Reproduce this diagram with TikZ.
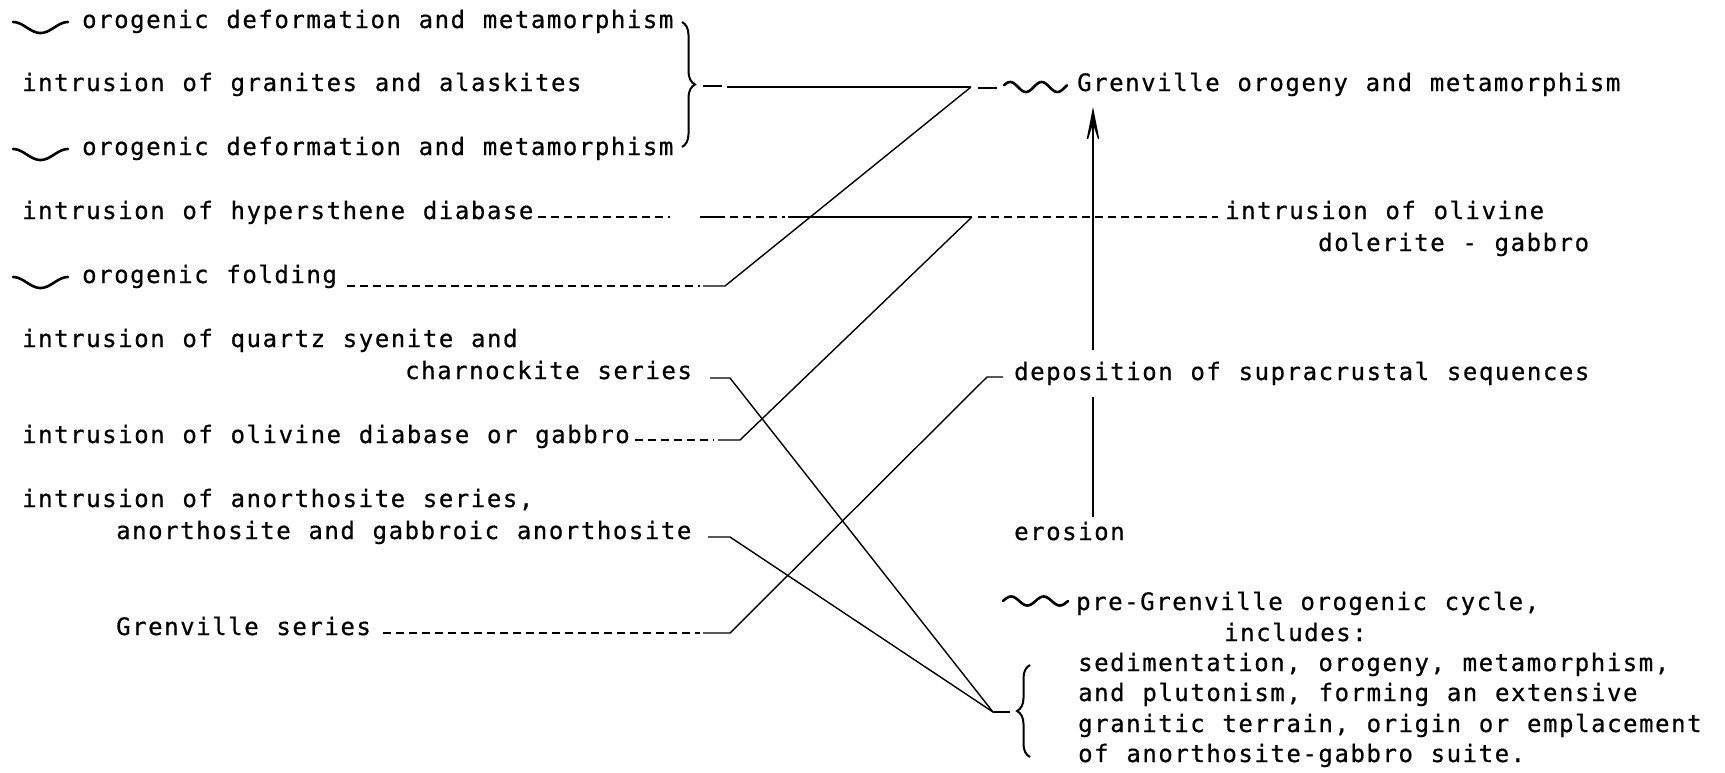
\documentclass[tikz,border=0pt]{standalone}
\usepackage{fontspec}
\newfontfamily\tw[LetterSpace=6.5,WordSpace=1.107,FakeBold=0.6]{DejaVu Sans Mono}
\usetikzlibrary{decorations.pathreplacing,arrows.meta}
\begin{document}
\begin{tikzpicture}[x=1pt,y=-1pt,
  txt/.style={anchor=base west,inner sep=0pt,font=\tw\fontsize{24pt}{28pt}\selectfont},
  conn/.style={line width=1.4pt},
  dsh/.style={line width=1.4pt,dash pattern=on 8pt off 5pt},
  wave/.style={line width=2.6pt,line cap=round},
  brc/.style={decorate,decoration={brace,amplitude=13pt},line width=2pt}]
\useasboundingbox (0,0) rectangle (1725,772);
% left column texts
\node[txt] (t1) at (82,28) {orogenic deformation and metamorphism};
\node[txt] (t2) at (22,91) {intrusion of granites and alaskites};
\node[txt] (t3) at (82,155) {orogenic deformation and metamorphism};
\node[txt] (t4) at (22,219) {intrusion of hypersthene diabase};
\node[txt] (t5) at (82,283) {orogenic folding};
\node[txt] (t6) at (22,347) {intrusion of quartz syenite and};
\node[txt] (t7) at (405,379) {charnockite series};
\node[txt] (t8) at (22,443) {intrusion of olivine diabase or gabbro};
\node[txt] (t9) at (22,507) {intrusion of anorthosite series,};
\node[txt] (t10) at (116,539) {anorthosite and gabbroic anorthosite};
\node[txt] (t11) at (116,635) {Grenville series};
% right column texts
\node[txt] (r1) at (1077,91) {Grenville orogeny and metamorphism};
\node[txt] (r2) at (1225,219) {intrusion of olivine};
\node[txt] (r2b) at (1318,251) {dolerite - gabbro};
\node[txt] (r3) at (1014,380) {deposition of supracrustal sequences};
\node[txt] (r4) at (1014,540) {erosion};
\node[txt] (r5) at (1076,610) {pre-Grenville orogenic cycle,};
\node[txt] (r5b) at (1224,641) {includes:};
\node[txt] (r5c) at (1078,671) {sedimentation, orogeny, metamorphism,};
\node[txt] (r5d) at (1078,701) {and plutonism, forming an extensive};
\node[txt] (r5e) at (1078,732) {granitic terrain, origin or emplacement};
\node[txt] (r5f) at (1078,762) {of anorthosite-gabbro suite.};
% wavy unconformity marks
\draw[wave] plot[domain=0:1,samples=40] ({13+55*\x},{27.5-5.5*cos(360*\x)});
\draw[wave] plot[domain=0:1,samples=40] ({13+55*\x},{154.5-5.5*cos(360*\x)});
\draw[wave] plot[domain=0:1,samples=40] ({13+55*\x},{282.5-5.5*cos(360*\x)});
\draw[wave] plot[domain=0:1,samples=60] ({1004+63*\x},{87-5*sin(720*\x+20)});
\draw[wave] plot[domain=0:1,samples=60] ({1003+65*\x},{601-4.5*sin(720*\x)});
% braces
\draw[brc] (682,22) -- (682,147);
\draw[brc] (1030,757) -- (1030,665);
% junction coordinates
\coordinate (jG) at (971,87);
\coordinate (jD) at (972,217);
\coordinate (jP) at (993,712);
\coordinate (jS) at (987,377);
% Grenville orogeny group
\draw[conn] (703,86) -- (722,86);
\draw[conn] (727,87) -- (jG);
\draw[conn] (978,88) -- (997,88);
% hypersthene diabase -> olivine dolerite
\coordinate (s4) at (700,217);
\draw[dsh] (538,217) -- (670,217);
\draw[conn] (s4) -- (725,217);
\draw[dsh] (730,217) -- (785,217);
\draw[conn] (788,217) -- (jD);
\coordinate (e2) at (1218,217);
\draw[dsh] (978,217) -- (e2);
% orogenic folding -> Grenville orogeny
\coordinate (s5) at (725,286);
\draw[dsh] (347,286) -- (700,286);
\draw[conn] (703,286) -- (s5) -- (jG);
% charnockite -> pre-Grenville
\coordinate (s7) at (730,378);
\draw[conn] (710,378) -- (s7) -- (jP);
% olivine diabase -> olivine dolerite
\coordinate (s8) at (740,440);
\draw[dsh] (635,440) -- (714,440);
\draw[conn] (718,440) -- (s8) -- (jD);
% anorthosite -> pre-Grenville
\coordinate (s10) at (730,537);
\draw[conn] (708,537) -- (s10) -- (jP);
% Grenville series -> deposition
\coordinate (s11) at (730,633);
\draw[dsh] (383,633) -- (700,633);
\draw[conn] (703,633) -- (s11) -- (jS) -- (1003,377);
% pre-Grenville stub
\draw[conn] (jP) -- (1010,712);
% vertical arrow
\coordinate (aT) at (1093,107);
\coordinate (aB) at (1093,350);
\coordinate (eT) at (1093,397);
\coordinate (eB) at (1093,517);
\draw[conn,-{Stealth[length=43pt,width=17pt,inset=26pt]}] (aB) -- (aT);
\draw[conn] (eB) -- (eT);
\end{tikzpicture}
\end{document}
